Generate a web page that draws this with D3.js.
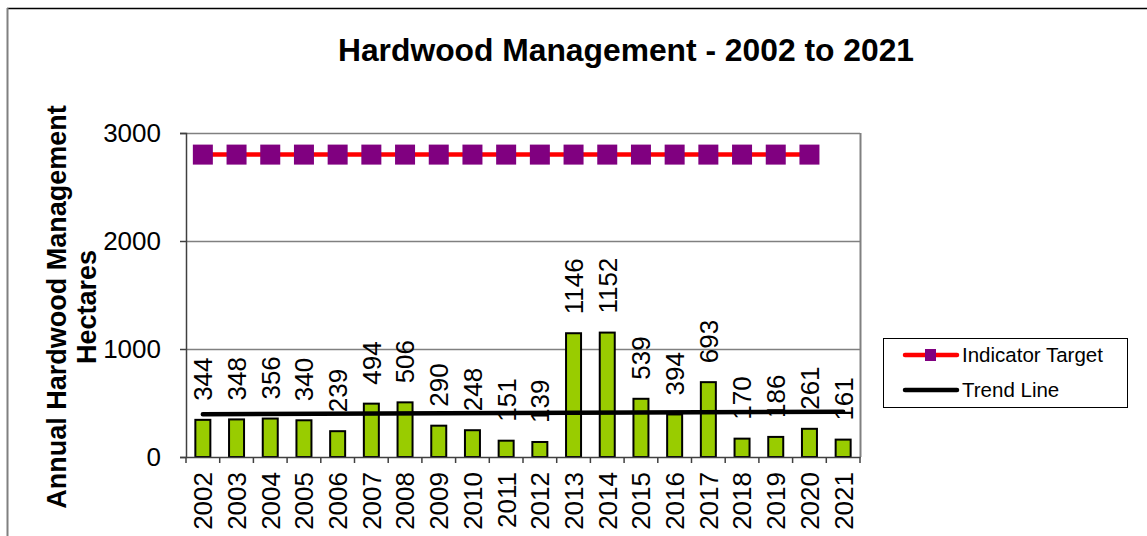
<!DOCTYPE html>
<html><head><meta charset="utf-8">
<script src="https://cdn.jsdelivr.net/npm/d3@7"></script>
<style>
html,body{margin:0;padding:0;background:#fff;}
svg{display:block;font-family:"Liberation Sans",Arial,sans-serif;}
</style></head>
<body>
<svg id="chart" width="1147" height="536"></svg>
<script>
const years = ["2002","2003","2004","2005","2006","2007","2008","2009","2010","2011","2012","2013","2014","2015","2016","2017","2018","2019","2020","2021"];
const hectares = [344,348,356,340,239,494,506,290,248,151,139,1146,1152,539,394,693,170,186,261,161];
const targetYears = ["2002","2003","2004","2005","2006","2007","2008","2009","2010","2011","2012","2013","2014","2015","2016","2017","2018","2019","2020"];
const targetValues = [2800,2800,2800,2800,2800,2800,2800,2800,2800,2800,2800,2800,2800,2800,2800,2800,2800,2800,2800];
const trendYears = ["2002","2021"];
const trendValues = [396,419];
const yTicks = [0,1000,2000,3000];

const svg = d3.select("#chart");
const m = {left:186, right:860, top:133, bottom:457};
const numFont = 26;

// outer frame
svg.append("line").attr("x1",7).attr("x2",1147).attr("y1",8.5).attr("y2",8.5).attr("stroke","#000").attr("stroke-width",1.5);
svg.append("line").attr("x1",7.5).attr("x2",7.5).attr("y1",8).attr("y2",536).attr("stroke","#808080").attr("stroke-width",2);

const x = d3.scaleBand().domain(years).range([m.left, m.right]);
const y = d3.scaleLinear().domain([0,3000]).range([m.bottom, m.top]);

// gridlines
svg.append("g").selectAll("line").data(yTicks.filter(d=>d>0)).join("line")
  .attr("x1",m.left).attr("x2",m.right)
  .attr("y1",d=>Math.round(y(d))+0.5).attr("y2",d=>Math.round(y(d))+0.5)
  .attr("stroke","#808080").attr("stroke-width",1.5);
// right border
svg.append("line").attr("x1",m.right+0.5).attr("x2",m.right+0.5).attr("y1",m.top).attr("y2",m.bottom)
  .attr("stroke","#808080").attr("stroke-width",2);

// bars
const bw = 15;
svg.append("g").selectAll("rect").data(hectares).join("rect")
  .attr("x",(d,i)=>x(years[i])+x.bandwidth()/2-bw/2)
  .attr("width",bw)
  .attr("y",d=>y(d))
  .attr("height",d=>y(0)-y(d))
  .attr("fill","#99cc00").attr("stroke","#000").attr("stroke-width",2);

// axes
const yAxis = d3.axisLeft(y).tickValues(yTicks).tickSize(6).tickFormat(d3.format("d"));
const gy = svg.append("g").attr("transform",`translate(${m.left},0)`).call(yAxis);
gy.select(".domain").attr("stroke","#404040").attr("stroke-width",1.5);
gy.selectAll(".tick line").attr("stroke","#404040").attr("stroke-width",1.5);
gy.selectAll(".tick text").attr("font-size",numFont).attr("x",-25).attr("dy","0.34em").attr("fill","#000")
  .style("font-family","'Liberation Sans',Arial,sans-serif");

const xAxis = d3.axisBottom(x).tickSize(0).tickSizeOuter(0);
const gx = svg.append("g").attr("transform",`translate(0,${m.bottom})`).call(xAxis);
gx.select(".domain").attr("stroke","#404040").attr("stroke-width",1.5);
gx.selectAll(".tick text").attr("font-size",numFont).attr("fill","#000")
  .attr("transform","rotate(-90)").attr("text-anchor","end")
  .attr("x",-15).attr("y",0).attr("dy","0.36em")
  .style("font-family","'Liberation Sans',Arial,sans-serif");
// category boundary ticks
gx.append("g").selectAll("line").data(years.concat(["end"])).join("line")
  .attr("x1",(d,i)=> i<years.length ? x(d) : m.right)
  .attr("x2",(d,i)=> i<years.length ? x(d) : m.right)
  .attr("y1",0).attr("y2",6).attr("stroke","#404040").attr("stroke-width",1.5);

// trend line
const line = d3.line().x(d=>x(d[0])+x.bandwidth()/2).y(d=>y(d[1]));
svg.append("path").datum(trendYears.map((d,i)=>[d,trendValues[i]]))
  .attr("d",line).attr("fill","none").attr("stroke","#000").attr("stroke-width",4.5).attr("stroke-linecap","round");

// data labels
svg.append("g").selectAll("text").data(hectares).join("text")
  .attr("transform",(d,i)=>`translate(${x(years[i])+x.bandwidth()/2},${y(d)-19}) rotate(-90)`)
  .attr("dy","0.36em").attr("font-size",numFont).attr("fill","#000")
  .text(d=>d);

// target line
const tPts = targetYears.map((d,i)=>[d,targetValues[i]]);
svg.append("path").datum(tPts).attr("d",line).attr("fill","none").attr("stroke","#ff0000").attr("stroke-width",4.5);
svg.append("g").selectAll("rect").data(tPts).join("rect")
  .attr("x",d=>x(d[0])+x.bandwidth()/2-10).attr("y",d=>y(d[1])-10)
  .attr("width",20).attr("height",20).attr("fill","#800080");

// title
svg.append("text").attr("x",626).attr("y",61).attr("text-anchor","middle")
  .attr("font-size",31.8).attr("font-weight","bold").text("Hardwood Management - 2002 to 2021");

// y axis title
const yt = svg.append("text").attr("transform","translate(66,307) rotate(-90)")
  .attr("text-anchor","middle").attr("font-size",27).attr("font-weight","bold");
yt.append("tspan").attr("x",0).attr("dy",0).text("Annual Hardwood Management");
yt.append("tspan").attr("x",0).attr("dy",30).text("Hectares");

// legend
const lg = svg.append("g");
lg.append("rect").attr("x",883.5).attr("y",338.5).attr("width",244).attr("height",69)
  .attr("fill","#fff").attr("stroke","#000").attr("stroke-width",1);
lg.append("line").attr("x1",905).attr("x2",957).attr("y1",355).attr("y2",355)
  .attr("stroke","#ff0000").attr("stroke-width",4.5).attr("stroke-linecap","round");
lg.append("rect").attr("x",925).attr("y",349).attr("width",11).attr("height",12).attr("fill","#800080");
lg.append("text").attr("x",962).attr("y",362).attr("font-size",20.5).text("Indicator Target");
lg.append("line").attr("x1",905).attr("x2",957).attr("y1",390).attr("y2",390)
  .attr("stroke","#000").attr("stroke-width",4.5).attr("stroke-linecap","round");
lg.append("text").attr("x",962).attr("y",397).attr("font-size",20.5).text("Trend Line");
</script>
</body></html>
